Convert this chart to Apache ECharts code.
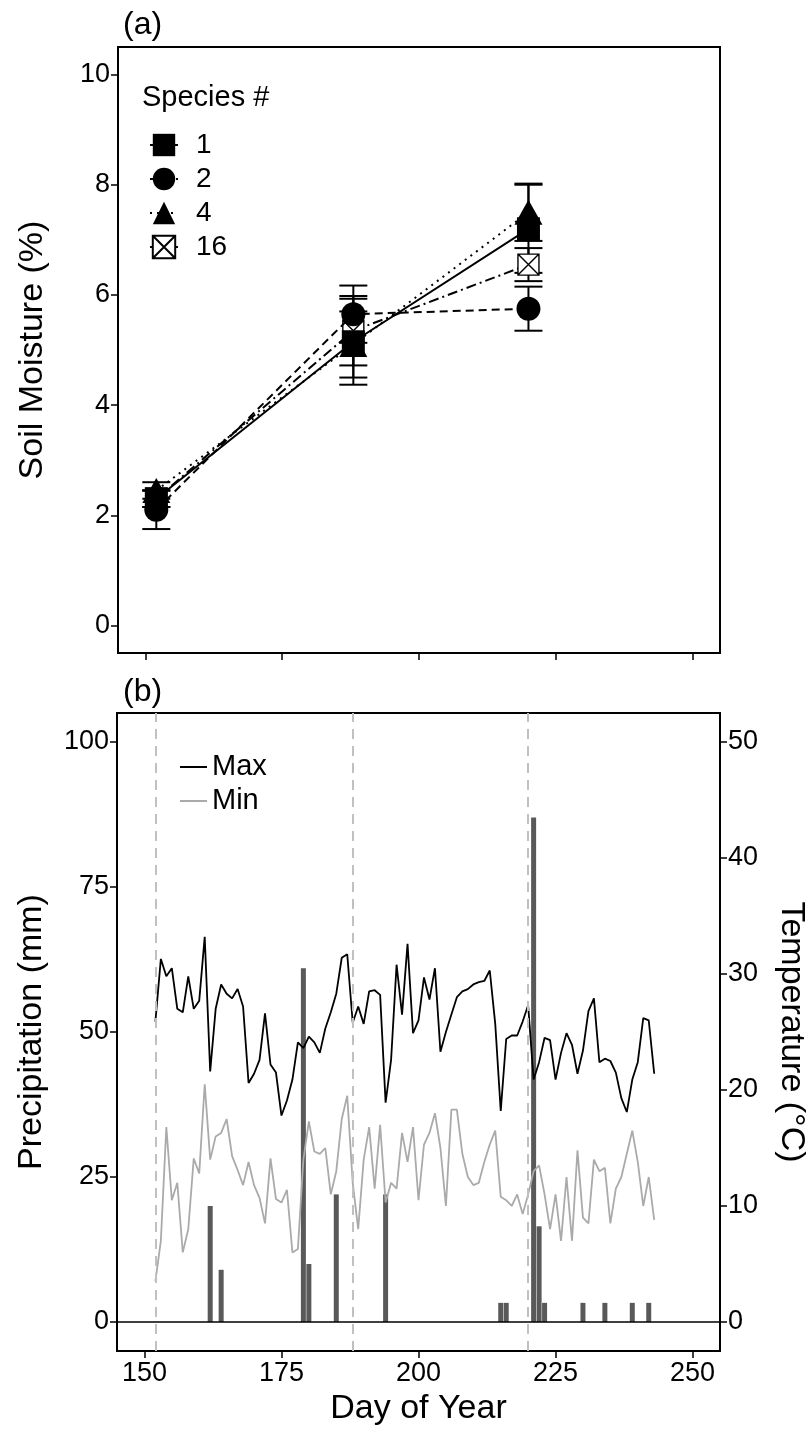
<!DOCTYPE html>
<html>
<head>
<meta charset="utf-8">
<script src="https://cdn.jsdelivr.net/npm/echarts@6/dist/echarts.min.js"></script>
<style>
  html, body { margin: 0; padding: 0; background: #fff; }
  #chart { width: 809px; height: 1432px; }
</style>
</head>
<body>
<div id="chart"></div>
<script>
// ---- Panel (a): soil moisture by species richness ----
const sampleDays = [152, 188, 220];
const moisture1  = [2.3, 5.15, 7.2];
const moisture2  = [2.1, 5.65, 5.75];
const moisture4  = [2.45, 5.1, 7.5];
const moisture16 = [2.3, 5.35, 6.55];
const se1  = [0.15, 0.78, 0.8];
const se2  = [0.35, 0.52, 0.4];
const se4  = [0.15, 0.6, 0.52];
const se16 = [0.15, 0.63, 0.3];
const moistureTicks = [0, 2, 4, 6, 8, 10];

// ---- Panel (b): daily weather ----
const firstDay = 152;
const maxTemp = [25.9, 31.3, 29.8, 30.5, 27.0, 26.7, 29.8, 27.0, 27.7, 33.2,
  21.6, 27.0, 29.1, 28.3, 27.9, 28.7, 27.2, 20.6, 21.4, 22.6,
  26.6, 22.2, 21.5, 17.8, 19.1, 20.9, 24.1, 23.6, 24.6, 24.1,
  23.2, 25.3, 26.7, 28.3, 31.4, 31.7, 25.8, 27.2, 25.7, 28.5,
  28.6, 28.2, 18.9, 22.6, 30.8, 26.5, 32.6, 24.9, 26.0, 29.7,
  27.8, 30.5, 23.3, 25.0, 26.5, 28.0, 28.5, 28.7, 29.1, 29.3,
  29.4, 30.3, 25.7, 18.2, 24.4, 24.7, 24.7, 25.9, 27.3, 20.9,
  22.4, 24.5, 24.3, 20.9, 23.2, 24.9, 23.9, 21.4, 23.4, 26.8,
  27.9, 22.4, 22.7, 22.5, 21.5, 19.3, 18.1, 20.9, 22.4, 26.2,
  26.0, 21.4];
const minTemp = [3.5, 7.0, 16.8, 10.5, 12.0, 6.0, 8.0, 14.1, 12.8, 20.5,
  14.0, 16.0, 16.3, 17.5, 14.3, 13.1, 11.8, 13.8, 11.8, 10.7,
  8.5, 14.1, 10.6, 10.3, 11.4, 6.0, 6.3, 14.0, 17.3, 14.7,
  14.5, 15.0, 11.0, 13.0, 17.5, 19.5, 12.0, 8.0, 14.0, 16.8,
  11.5, 17.0, 10.3, 12.0, 11.5, 16.3, 13.8, 16.8, 10.5, 15.3,
  16.3, 18.0, 15.0, 10.0, 18.3, 18.3, 14.5, 12.5, 11.8, 12.0,
  13.8, 15.3, 16.5, 10.8, 10.5, 10.0, 11.0, 9.3, 11.0, 13.0,
  13.5, 11.0, 8.0, 11.0, 7.0, 12.5, 7.0, 14.8, 9.0, 8.5,
  14.0, 13.0, 13.3, 8.5, 11.5, 12.5, 14.5, 16.5, 13.8, 10.0,
  12.5, 8.8];
const rainDays = [162, 164, 179, 180, 185, 194, 215, 216, 221, 222, 223, 230, 234, 239, 242];
const rainMm   = [20, 9, 61, 10, 22, 22, 3.3, 3.3, 87, 16.5, 3.3, 3.3, 3.3, 3.3, 3.3];
const dayTicks = [150, 175, 200, 225, 250];
const rainTicks = [0, 25, 50, 75, 100];
const tempTicks = [0, 10, 20, 30, 40, 50];

const FONT = "'Liberation Sans', Arial, Helvetica, sans-serif";
const INK = '#000';

const crossedSquare = 'path://M0 0H10V10H0Z M0 0L10 10 M10 0L0 10';

function pairs(xs, ys) { return xs.map((x, i) => [x, ys[i]]); }

function errorBars(name, values, errs) {
  return {
    type: 'custom', name: name, xAxisIndex: 0, yAxisIndex: 0, z: 2,
    silent: true,
    encode: { x: 0, y: [1, 2] },
    data: sampleDays.map((d, i) => [d, values[i] - errs[i], values[i] + errs[i]]),
    renderItem: function (params, api) {
      const x = api.value(0);
      const lo = api.coord([x, api.value(1)]);
      const hi = api.coord([x, api.value(2)]);
      const half = 14;
      const st = { stroke: INK, lineWidth: 2 };
      return { type: 'group', children: [
        { type: 'line', shape: { x1: lo[0], y1: lo[1], x2: hi[0], y2: hi[1] }, style: st },
        { type: 'line', shape: { x1: lo[0] - half, y1: lo[1], x2: lo[0] + half, y2: lo[1] }, style: st },
        { type: 'line', shape: { x1: hi[0] - half, y1: hi[1], x2: hi[0] + half, y2: hi[1] }, style: st }
      ]};
    }
  };
}

function moistureLine(name, values, symbol, size, dash, fill, z) {
  return {
    type: 'line', name: name, xAxisIndex: 0, yAxisIndex: 0, z: z,
    data: pairs(sampleDays, values),
    symbol: symbol, symbolSize: size, showSymbol: true,
    itemStyle: { color: fill, borderColor: INK, borderWidth: fill === '#fff' ? 1.4 : 0 },
    lineStyle: { color: INK, width: 2, type: dash },
    animation: false
  };
}

const tickLabel = { color: INK, fontSize: 27, fontFamily: FONT };
const axisTitle = { color: INK, fontSize: 34, fontFamily: FONT };
const tickStyle = { show: true, length: 7, lineStyle: { color: INK, width: 1.5 } };

const option = {
  animation: false,
  backgroundColor: '#fff',
  textStyle: { fontFamily: FONT },
  grid: [
    { left: 118, right: 89, top: 47, height: 606, outerBoundsMode: 'none', containLabel: false,
      show: true, borderColor: INK, borderWidth: 2, backgroundColor: 'transparent' },
    { left: 117, right: 89, top: 713, height: 638, outerBoundsMode: 'none', containLabel: false,
      show: true, borderColor: INK, borderWidth: 2, backgroundColor: 'transparent' }
  ],
  xAxis: [
    { type: 'value', gridIndex: 0, min: 145, max: 255, position: 'bottom',
      axisLine: { show: false, onZero: false },
      axisTick: Object.assign({ customValues: dayTicks }, tickStyle),
      axisLabel: { show: false, customValues: dayTicks },
      splitLine: { show: false } },
    { type: 'value', gridIndex: 1, min: 145, max: 255, position: 'bottom',
      name: 'Day of Year', nameLocation: 'middle', nameGap: 41, nameTextStyle: axisTitle,
      axisLine: { show: false, onZero: false },
      axisTick: Object.assign({ customValues: dayTicks }, tickStyle),
      axisLabel: Object.assign({ customValues: dayTicks, margin: 9 }, tickLabel),
      splitLine: { show: false } }
  ],
  yAxis: [
    { type: 'value', gridIndex: 0, min: -0.5, max: 10.5,
      name: 'Soil Moisture (%)', nameLocation: 'middle', nameGap: 68, nameRotate: 90, nameTextStyle: axisTitle,
      axisLine: { show: false, onZero: false },
      axisTick: Object.assign({ customValues: moistureTicks }, tickStyle),
      axisLabel: Object.assign({ customValues: moistureTicks, margin: 8 }, tickLabel),
      splitLine: { show: false } },
    { type: 'value', gridIndex: 1, min: -5, max: 105,
      name: 'Precipitation (mm)', nameLocation: 'middle', nameGap: 68, nameRotate: 90, nameTextStyle: axisTitle,
      axisLine: { show: false, onZero: false },
      axisTick: Object.assign({ customValues: rainTicks }, tickStyle),
      axisLabel: Object.assign({ customValues: rainTicks, margin: 8 }, tickLabel),
      splitLine: { show: false } },
    { type: 'value', gridIndex: 1, position: 'right', min: -2.5, max: 52.5,
      name: 'Temperature (°C)', nameLocation: 'middle', nameGap: 54, nameRotate: -90, nameTextStyle: axisTitle,
      axisLine: { show: false, onZero: false },
      axisTick: Object.assign({ customValues: tempTicks }, tickStyle),
      axisLabel: Object.assign({ customValues: tempTicks, margin: 8 }, tickLabel),
      splitLine: { show: false } }
  ],
  legend: [
    { data: ['1', '2', '4', '16'], orient: 'vertical', left: 144, top: 126,
      itemWidth: 28, itemHeight: 28, itemGap: 6,
      textStyle: { color: INK, fontSize: 28, fontFamily: FONT, padding: [0, 0, 0, 13] },
      selectedMode: false },
    { data: ['Max', 'Min'], orient: 'vertical', left: 175, top: 747, icon: 'rect',
      itemWidth: 27, itemHeight: 2, itemGap: 4,
      textStyle: { color: INK, fontSize: 29, lineHeight: 30, fontFamily: FONT },
      selectedMode: false }
  ],
  graphic: [
    { type: 'text', left: 123, top: 9, style: { text: '(a)', fontSize: 32, fontFamily: FONT, fill: INK } },
    { type: 'text', left: 123, top: 676, style: { text: '(b)', fontSize: 32, fontFamily: FONT, fill: INK } },
    { type: 'text', left: 142, top: 83, style: { text: 'Species #', fontSize: 29, fontFamily: FONT, fill: INK } }
  ],
  series: [
    errorBars('e1', moisture1, se1),
    errorBars('e2', moisture2, se2),
    errorBars('e4', moisture4, se4),
    errorBars('e16', moisture16, se16),
    moistureLine('1', moisture1, 'rect', 23, 'solid', INK, 5),
    moistureLine('2', moisture2, 'circle', 24, [8, 5], INK, 6),
    moistureLine('4', moisture4, 'triangle', [28, 25], [2, 5], INK, 4),
    moistureLine('16', moisture16, crossedSquare, 21, [10, 4, 2, 4], '#fff', 3),
    {
      type: 'bar', name: 'Precipitation', xAxisIndex: 1, yAxisIndex: 1, z: 2,
      data: pairs(rainDays, rainMm), barWidth: 5,
      itemStyle: { color: '#595959' },
      markLine: {
        silent: true, symbol: ['none', 'none'], label: { show: false }, animation: false,
        data: [
          { yAxis: 0, lineStyle: { color: INK, width: 1.6, type: 'solid' } },
          ...sampleDays.map(d => ({ xAxis: d, lineStyle: { color: '#c0c0c0', width: 2, type: [10, 7] } }))
        ]
      }
    },
    { type: 'line', name: 'Max', xAxisIndex: 1, yAxisIndex: 2, z: 3,
      data: maxTemp.map((t, i) => [firstDay + i, t]),
      symbol: 'none', itemStyle: { color: INK }, lineStyle: { color: INK, width: 1.8 } },
    { type: 'line', name: 'Min', xAxisIndex: 1, yAxisIndex: 2, z: 3,
      data: minTemp.map((t, i) => [firstDay + i, t]),
      symbol: 'none', itemStyle: { color: '#aaaaaa' }, lineStyle: { color: '#aaaaaa', width: 1.8 } }
  ]
};

const chart = echarts.init(document.getElementById('chart'), null, { renderer: 'canvas' });
chart.setOption(option);
</script>
</body>
</html>
